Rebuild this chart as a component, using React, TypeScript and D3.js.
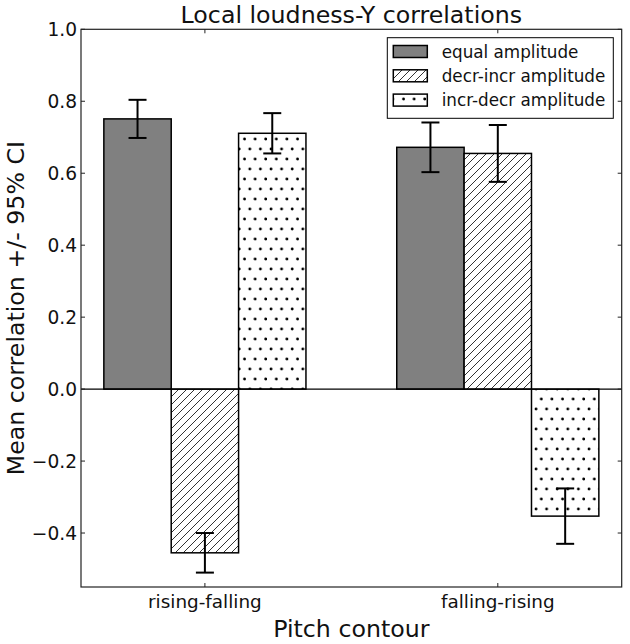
import React from "react";
import * as d3 from "d3";

const contours = ["rising-falling", "falling-rising"];
const seriesNames = ["equal amplitude", "decr-incr amplitude", "incr-decr amplitude"];
// mean correlation per series, one value per contour
const equalMeans = [0.751, 0.672];
const decrIncrMeans = [-0.455, 0.655];
const incrDecrMeans = [0.711, -0.353];
// half width of the 95% CI
const equalCI = [0.053, 0.069];
const decrIncrCI = [0.055, 0.079];
const incrDecrCI = [0.056, 0.077];
const yTicks = [-0.4, -0.2, 0.0, 0.2, 0.4, 0.6, 0.8, 1.0];

const font = "'DejaVu Sans', sans-serif";

export default function App() {
  const W = 630;
  const H = 644;
  const left = 81;
  const right = 621.7;
  const top = 29.3;
  const bottom = 587;
  const barW = 0.23;

  const x = d3.scaleLinear().domain([-0.423, 1.423]).range([left, right]);
  const y = d3.scaleLinear().domain([-0.55, 1.0]).range([bottom, top]);
  const fmt = (v) => d3.format(".1f")(v).replace("-", "\u2212");

  const series = [
    { name: seriesNames[0], means: equalMeans, ci: equalCI, fill: "#808080" },
    { name: seriesNames[1], means: decrIncrMeans, ci: decrIncrCI, fill: "url(#hatch)" },
    { name: seriesNames[2], means: incrDecrMeans, ci: incrDecrCI, fill: "url(#dots)" },
  ];

  // bars of each group sit side by side around the contour position
  const offset = (si) => (si - 1) * barW;

  return (
    <svg
      width={W}
      height={H}
      style={{ position: "absolute", left: 0, top: 0, background: "#fff" }}
      fontFamily={font}
    >
      <defs>
        <pattern id="hatch" patternUnits="userSpaceOnUse" width="8" height="8">
          <rect width="8" height="8" fill="#fff" />
          <path d="M-2,2 L2,-2 M0,8 L8,0 M6,10 L10,6" stroke="#333" strokeWidth="1" />
        </pattern>
        <pattern id="dots" patternUnits="userSpaceOnUse" width="10.6" height="20" x="2" y="1">
          <rect width="10.6" height="20" fill="#fff" />
          <circle cx="4" cy="8" r="1.4" fill="#000" />
          <circle cx="9.3" cy="18" r="1.4" fill="#000" />
        </pattern>
      </defs>

      {/* bars */}
      {series.map((s, si) =>
        s.means.map((m, ci) => {
          const x0 = x(ci + offset(si) - barW / 2);
          const x1 = x(ci + offset(si) + barW / 2);
          return (
            <rect
              key={`b${si}-${ci}`}
              x={x0}
              y={Math.min(y(m), y(0))}
              width={x1 - x0}
              height={Math.abs(y(m) - y(0))}
              fill={s.fill}
              stroke="#000"
              strokeWidth={1.5}
            />
          );
        })
      )}

      {/* zero line */}
      <line x1={left} x2={right} y1={y(0)} y2={y(0)} stroke="#000" strokeWidth={1.2} />

      {/* error bars */}
      {series.map((s, si) =>
        s.means.map((m, ci) => {
          const cx = x(ci + offset(si));
          const hi = y(m + s.ci[ci]);
          const lo = y(m - s.ci[ci]);
          return (
            <g key={`e${si}-${ci}`} stroke="#000" strokeWidth={2}>
              <line x1={cx} x2={cx} y1={hi} y2={lo} />
              <line x1={cx - 9} x2={cx + 9} y1={hi} y2={hi} />
              <line x1={cx - 9} x2={cx + 9} y1={lo} y2={lo} />
            </g>
          );
        })
      )}

      {/* frame */}
      <rect x={left} y={top} width={right - left} height={bottom - top} fill="none" stroke="#222" strokeWidth={1.2} />

      {/* y ticks */}
      {yTicks.map((t) => (
        <g key={`y${t}`}>
          <line x1={left} x2={left + 4} y1={y(t)} y2={y(t)} stroke="#222" />
          <line x1={right - 4} x2={right} y1={y(t)} y2={y(t)} stroke="#222" />
          <text x={left - 4} y={y(t)} dy="0.36em" textAnchor="end" fontSize={18.6} fill="#111">
            {fmt(t)}
          </text>
        </g>
      ))}

      {/* x ticks */}
      {contours.map((c, i) => (
        <g key={c}>
          <line x1={x(i)} x2={x(i)} y1={bottom} y2={bottom - 4} stroke="#222" />
          <line x1={x(i)} x2={x(i)} y1={top} y2={top + 4} stroke="#222" />
          <text x={x(i)} y={bottom + 20.5} textAnchor="middle" fontSize={18.4} fill="#111">
            {c}
          </text>
        </g>
      ))}

      {/* titles */}
      <text x={(left + right) / 2} y={22.7} textAnchor="middle" fontSize={23.7} fill="#111">
        Local loudness-Y correlations
      </text>
      <text x={(left + right) / 2} y={636.5} textAnchor="middle" fontSize={23.7} fill="#111">
        Pitch contour
      </text>
      <text
        transform={`translate(24,${(top + bottom) / 2}) rotate(-90)`}
        textAnchor="middle"
        fontSize={23.7}
        fill="#111"
      >
        Mean correlation +/- 95% CI
      </text>

      {/* legend */}
      <g>
        <rect x={387.3} y={37.7} width={226} height={80.6} fill="#fff" stroke="#000" strokeWidth={1} />
        {series.map((s, si) => {
          const cy = 51.5 + si * 24.3;
          return (
            <g key={`l${si}`}>
              <rect x={393.3} y={cy - 6} width={34} height={12} fill={s.fill} stroke="#000" strokeWidth={1.5} />
              <text x={441.7} y={cy} dy="0.36em" fontSize={16.8} fill="#111">
                {s.name}
              </text>
            </g>
          );
        })}
      </g>
    </svg>
  );
}
